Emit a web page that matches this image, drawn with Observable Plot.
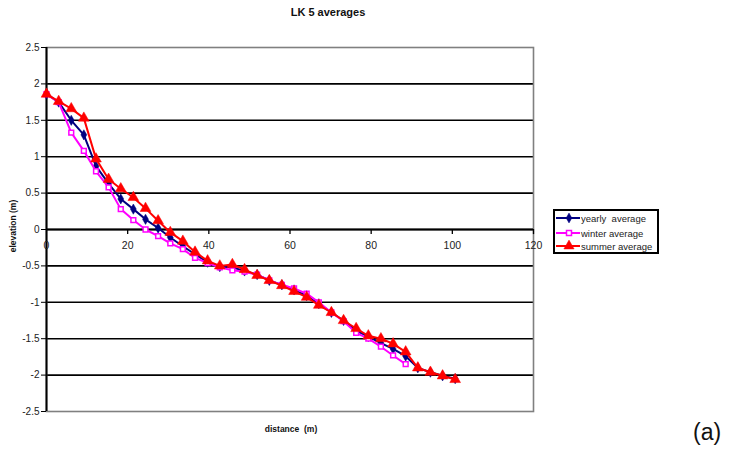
<!DOCTYPE html>
<html><head><meta charset="utf-8">
<script src="https://cdn.jsdelivr.net/npm/d3@7"></script>
<script src="https://cdn.jsdelivr.net/npm/@observablehq/plot@0.6"></script>
<style>
body{margin:0;background:#fff;font-family:"Liberation Sans",Arial,sans-serif;}
#wrap{position:relative;width:729px;height:461px;overflow:hidden;}
#wrap > svg{position:absolute;left:0;top:0;}
.t{position:absolute;white-space:nowrap;color:#000;line-height:1;}
#legend{position:absolute;left:553px;top:209px;width:102px;height:41px;border:2px solid #000;background:#fff;}
.row{position:absolute;left:0;height:12px;display:flex;align-items:center;font-size:9.5px;color:#222;}
.row svg{display:block;}
</style></head><body><div id="wrap"></div><script>
const distance=[0,3,6.1,9.2,12.2,15.3,18.3,21.4,24.4,27.5,30.5,33.6,36.6,39.7,42.7,45.8,48.8,51.9,54.9,58,61,64.1,67.1,70.2,73.2,76.3,79.3,82.4,85.4,88.5,91.5,94.6,97.6,100.7];
const yearly=[1.86,1.75,1.50,1.30,0.87,0.63,0.42,0.28,0.14,0.02,-0.11,-0.23,-0.34,-0.45,-0.51,-0.52,-0.57,-0.62,-0.70,-0.76,-0.83,-0.91,-1.02,-1.14,-1.25,-1.39,-1.47,-1.56,-1.64,-1.74,-1.90,-1.96,-2.01,-2.05];
const winter=[1.86,1.75,1.33,1.08,0.80,0.58,0.28,0.13,0.00,-0.09,-0.19,-0.27,-0.39,-0.46,-0.52,-0.56,-0.58,-0.62,-0.70,-0.76,-0.81,-0.88,-1.00,-1.14,-1.26,-1.42,-1.50,-1.61,-1.73,-1.85];
const summer=[1.86,1.76,1.66,1.53,0.97,0.69,0.56,0.44,0.29,0.12,-0.04,-0.16,-0.31,-0.43,-0.50,-0.48,-0.55,-0.63,-0.70,-0.77,-0.85,-0.93,-1.04,-1.14,-1.25,-1.36,-1.46,-1.50,-1.57,-1.68,-1.90,-1.96,-2.01,-2.06];
const xTicks=[0,20,40,60,80,100,120];
const yTicks=[-2.5,-2,-1.5,-1,-0.5,0,0.5,1,1.5,2,2.5];
const seriesNames=["yearly  average","winter average","summer average"];
const seriesColors=["#000080","#ff00ff","#ff0000"];
const seriesSymbols=["diamond","square","triangle"];
const titleText="LK 5 averages";
const xLabel="distance  (m)";
const yLabel="elevation (m)";
const panelLabel="(a)";

const seriesValues=[yearly,winter,summer];
const rows=[];
seriesValues.forEach((vals,i)=>vals.forEach((v,j)=>rows.push({series:seriesNames[i],idx:i,distance:distance[j],elevation:v})));

const seriesMarks=[];
seriesNames.forEach((name,i)=>{
  const d=rows.filter(r=>r.idx===i);
  seriesMarks.push(Plot.line(d,{x:"distance",y:"elevation",stroke:seriesColors[i],strokeWidth:2}));
  if(i===0) seriesMarks.push(Plot.dot(d,{x:"distance",y:"elevation",symbol:"diamond",r:3.1,fill:seriesColors[i],stroke:seriesColors[i],strokeWidth:0.5}));
  if(i===1) seriesMarks.push(Plot.dot(d,{x:"distance",y:"elevation",symbol:"square",r:2.7,fill:"#fff",stroke:seriesColors[i],strokeWidth:1.5}));
  if(i===2) seriesMarks.push(Plot.dot(d,{x:"distance",y:"elevation",symbol:"triangle",r:4,fill:seriesColors[i],stroke:seriesColors[i],strokeWidth:0.5}));
});

const chart=Plot.plot({
  width:729,height:461,
  marginLeft:46,marginRight:196,marginTop:47,marginBottom:50,
  x:{domain:[0,120],axis:null},
  y:{domain:[-2.5,2.5]},
  style:{fontFamily:'"Liberation Sans",Arial,sans-serif',fontSize:"10px",color:"#222",background:"transparent"},
  marks:[
    Plot.ruleY(yTicks.filter(v=>Math.abs(v)<2.5),{stroke:"#000",strokeWidth:1.6}),
    Plot.frame({stroke:"#808080",strokeWidth:1.6}),
    Plot.axisY({ticks:yTicks,tickSize:5,tickPadding:2,tickFormat:d=>String(d),label:null,fontSize:10,stroke:"#000"}),
    Plot.ruleX([0],{stroke:"#000",strokeWidth:2}),
    Plot.ruleY([0],{stroke:"#000",strokeWidth:2}),
    Plot.ruleX(xTicks.filter(v=>v>0),{x:d=>d,y1:()=>0,y2:()=>-0.07,stroke:"#000",strokeWidth:1.3}),
    Plot.text(xTicks,{x:d=>d,y:()=>0,dy:16,text:d=>String(d),fontSize:10.5,fill:"#222"}),
    ...seriesMarks
  ]
});
const wrap=document.getElementById("wrap");
wrap.appendChild(chart);

function addText(txt,css){const e=document.createElement("div");e.className="t";e.textContent=txt;Object.assign(e.style,css);wrap.appendChild(e);return e;}
addText(titleText,{left:"328px",top:"7px",transform:"translateX(-50%)",fontWeight:"bold",fontSize:"11px",color:"#111"});
const xl=addText(xLabel,{left:"291px",top:"425px",transform:"translateX(-50%)",fontWeight:"bold",fontSize:"8.5px",color:"#111"});
xl.style.whiteSpace="pre";
addText(yLabel,{left:"13px",top:"226px",transform:"translate(-50%,-50%) rotate(-90deg)",fontWeight:"bold",fontSize:"8.5px",color:"#111"});
addText(panelLabel,{left:"693px",top:"421px",fontSize:"23px",color:"#111"});

const legend=document.createElement("div");legend.id="legend";wrap.appendChild(legend);
const rowTops=[1,16,29];
seriesNames.forEach((name,i)=>{
  const r=document.createElement("div");r.className="row";r.style.top=rowTops[i]+"px";
  const ns="http://www.w3.org/2000/svg";
  const s=document.createElementNS(ns,"svg");s.setAttribute("width","26");s.setAttribute("height","12");
  const l=document.createElementNS(ns,"line");l.setAttribute("x1","1");l.setAttribute("x2","25");l.setAttribute("y1","6");l.setAttribute("y2","6");l.setAttribute("stroke",seriesColors[i]);l.setAttribute("stroke-width","2");s.appendChild(l);
  const p=document.createElementNS(ns,"path");
  const sym=d3.symbol(seriesSymbols[i]==="diamond"?d3.symbolDiamond:seriesSymbols[i]==="square"?d3.symbolSquare:d3.symbolTriangle,seriesSymbols[i]==="triangle"?45:seriesSymbols[i]==="square"?25:28)();
  p.setAttribute("d",sym);p.setAttribute("transform","translate(14,6)");
  p.setAttribute("fill",i===1?"#fff":seriesColors[i]);p.setAttribute("stroke",seriesColors[i]);p.setAttribute("stroke-width",i===1?"1.5":"0.5");
  s.appendChild(p);r.appendChild(s);
  const t=document.createElement("span");t.textContent=name;t.style.whiteSpace="pre";r.appendChild(t);
  legend.appendChild(r);
});
</script></body></html>
